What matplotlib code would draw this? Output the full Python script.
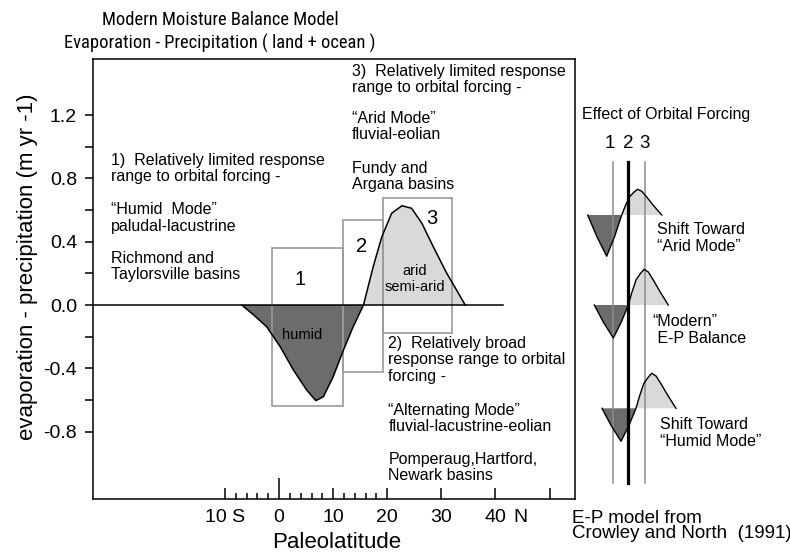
import matplotlib.pyplot as plt
from matplotlib import font_manager
from matplotlib.patches import Rectangle

plt.rcParams["font.family"] = ["Liberation Sans", "DejaVu Sans"]
plt.rcParams["axes.unicode_minus"] = False

W, H = 790, 552

# E-P curve (paleolatitude in degrees, evaporation - precipitation in m/yr)
LATITUDE = [-6.9, -4.7, -2.3, 0.2, 2.65, 5.1, 6.8, 8.2, 10.0, 11.9, 13.7, 15.6,
            17.4, 19.0, 20.8, 22.7, 24.5, 26.4, 28.5, 31.0, 32.8, 34.4]
EP = [0.0, -0.063, -0.137, -0.263, -0.411, -0.537, -0.604, -0.579, -0.453, -0.284,
      -0.137, 0.0, 0.242, 0.432, 0.579, 0.627, 0.611, 0.516, 0.368, 0.200, 0.095, 0.0]

# response-range boxes 1, 2, 3
BOX_NAMES = ["1", "2", "3"]
BOX_LEFT = [-1.35, 11.9, 19.2]
BOX_RIGHT = [11.9, 19.2, 31.9]
BOX_TOP = [0.362, 0.537, 0.674]
BOX_BOTTOM = [-0.638, -0.425, -0.175]

X_MAJOR = [-10, 0, 10, 20, 30, 40, 50]
X_LABELS = ["10 S", "0", "10", "20", "30", "40", ""]
X_MINOR = [-8, -6, -4, -2, 2, 4, 6, 8, 12, 14, 16, 18]
Y_MAJOR = [-0.8, -0.4, 0.0, 0.4, 0.8, 1.2]
Y_LABELS = ["-0.8", "-0.4", "0.0", "0.4", "0.8", "1.2"]
Y_MINOR = [-0.6, -0.2, 0.2, 0.6, 1.0]

# annotation paragraphs of the three response modes
NOTES_1 = ["1)  Relatively limited response\nrange to orbital forcing -",
           "\u201cHumid  Mode\u201d\npaludal-lacustrine",
           "Richmond and\nTaylorsville basins"]
NOTES_2 = ["2)  Relatively broad\nresponse range to orbital\nforcing -",
           "\u201cAlternating Mode\u201d\nfluvial-lacustrine-eolian",
           "Pomperaug,Hartford,\nNewark basins"]
NOTES_3 = ["3)  Relatively limited response\nrange to orbital forcing -",
           "\u201cArid Mode\u201d\nfluvial-eolian",
           "Fundy and\nArgana basins"]

# schematic glyphs of the right panel (pixel units, relative to zero crossing)
TROUGH_DX = [-34, -25, -15, -7, 0]
TROUGH_DY = [0, -17, -33, -17, 0]
HUMP_DX = [0, 3.3, 7.7, 11.7, 15.7, 20, 25, 31.7, 40]
HUMP_DY = [0, 11.7, 25, 31, 35.7, 33, 25, 13.3, 0]
GLYPH_X0 = [621.7, 628.3, 636.0]
GLYPH_Y0 = [215, 305, 408.3]
GLYPH_TROUGH_SCALE = [1.25, 1.0, 1.0]
GLYPH_HUMP_SCALE = [0.72, 1.0, 0.98]
GLYPH_TEXT = ["Shift Toward\n\u201cArid Mode\u201d", "\u201cModern\u201d\n E-P Balance",
              "Shift Toward\n\u201cHumid Mode\u201d"]
MODE_X = [613.3, 628.3, 645.0]

DARK = "#6c6c6c"
LIGHT = "#d9d9d9"
BOX_GRAY = "#9a9a9a"


def fig_xy(px, py):
    return px / W, 1 - py / H


def title_font():
    names = {f.name for f in font_manager.fontManager.ttflist}
    for narrow in ["Liberation Sans Narrow", "Roboto Condensed", "Open Sans Condensed"]:
        if narrow in names:
            return [narrow, "Liberation Sans"], 13.3
    return ["Liberation Sans"], 12.5


fig = plt.figure(figsize=(W / 100, H / 100), dpi=100)
ax = fig.add_axes([93 / W, 53 / H, 482 / W, 440 / H])
ax.set_xlim(-34.4, 54.7)
ax.set_ylim(-1.2255, 1.554)
for spine in ax.spines.values():
    spine.set_linewidth(1.1)

ax.fill_between(LATITUDE, EP, 0, where=[v <= 0 for v in EP], color=DARK,
                interpolate=True, linewidth=0, zorder=1)
ax.fill_between(LATITUDE, EP, 0, where=[v >= 0 for v in EP], color=LIGHT,
                interpolate=True, linewidth=0, zorder=1)
for left, right, top, bottom in zip(BOX_LEFT, BOX_RIGHT, BOX_TOP, BOX_BOTTOM):
    ax.add_patch(Rectangle((left, bottom), right - left, top - bottom, fill=False,
                           edgecolor=BOX_GRAY, linewidth=1.2, zorder=2))
ax.plot(LATITUDE, EP, color="black", linewidth=1.1, zorder=3)
ax.plot([-34.4, 41.4], [0, 0], color="black", linewidth=1.1, zorder=3)

for (x, y), name in zip([(3.9, 0.158), (15.2, 0.368), (28.3, 0.548)], BOX_NAMES):
    ax.text(x, y, name, fontsize=14.5, ha="center", va="center")
ax.text(4.2, -0.19, "humid", fontsize=10.5, ha="center", va="center")
ax.text(25.1, 0.166, "arid\nsemi-arid", fontsize=10.5, ha="center", va="center",
        multialignment="center", linespacing=1.2)

for x, ys, notes in [(-31.1, [0.861, 0.550, 0.244], NOTES_1),
                     (13.5, [1.426, 1.126, 0.810], NOTES_3),
                     (20.2, [-0.347, -0.716, -1.025], NOTES_2)]:
    for y, note in zip(ys, notes):
        ax.text(x, y, note, fontsize=11.5, ha="left", va="center", linespacing=1.1)

ax.set_xticks(X_MAJOR, X_LABELS)
ax.set_xticks(X_MINOR, minor=True)
ax.tick_params(axis="x", which="both", direction="in", top=False, pad=7,
               labelsize=14, width=1.1)
ax.tick_params(axis="x", which="major", length=8)
ax.tick_params(axis="x", which="minor", length=4)
ax.xaxis.get_major_ticks()[1].tick1line.set_markersize(15)
ax.text(44.7, -0.022, "N", transform=ax.get_xaxis_transform(), fontsize=14,
        ha="center", va="top")

ax.set_yticks(Y_MAJOR, Y_LABELS)
ax.set_yticks(Y_MINOR, minor=True)
ax.tick_params(axis="y", which="both", direction="out", length=6, right=False,
               labelsize=14, pad=5.5, width=1.1)

family, size = title_font()
fig.text(*fig_xy(220, 32), "Modern Moisture Balance Model\n"
         "Evaporation - Precipitation ( land + ocean )",
         family=family, fontsize=size, ha="center", va="center", linespacing=1.35)
fig.text(*fig_xy(337, 542), "Paleolatitude", fontsize=16, ha="center", va="center")
fig.text(*fig_xy(28, 267), "evaporation - precipitation (m yr -1)", fontsize=16,
         rotation=90, ha="center", va="center")

# right panel: effect of orbital forcing
side = fig.add_axes([0, 0, 1, 1], facecolor="none")
side.set_xlim(0, W)
side.set_ylim(H, 0)
side.axis("off")

for x0, y0, ts, hs in zip(GLYPH_X0, GLYPH_Y0, GLYPH_TROUGH_SCALE, GLYPH_HUMP_SCALE):
    tx = [x0 + d for d in TROUGH_DX]
    ty = [y0 - d * ts for d in TROUGH_DY]
    hx = [x0 + d for d in HUMP_DX]
    hy = [y0 - d * hs for d in HUMP_DY]
    side.fill(tx, ty, color=DARK, linewidth=0, zorder=1)
    side.fill(hx, hy, color=LIGHT, linewidth=0, zorder=1)
    side.plot(tx + hx, ty + hy, color="black", linewidth=1.0, zorder=3)

for i, x in enumerate(MODE_X):
    if i == 1:
        side.plot([x, x], [161.7, 482.7], color="black", linewidth=2.3, zorder=4)
    else:
        side.plot([x, x], [161.7, 482.7], color="#8c8c8c", linewidth=1.1, zorder=2)
    side.text(x - (3 if i == 0 else 0), 143.3, str(i + 1), fontsize=13.5,
              ha="center", va="center")

side.text(581.7, 115, "Effect of Orbital Forcing", fontsize=11.5, ha="left", va="center")
for (px, py), label in zip([(656.7, 238.3), (652.7, 330), (660, 433.3)], GLYPH_TEXT):
    side.text(px, py, label, fontsize=11.5, ha="left", va="center", linespacing=1.15)
side.text(571.7, 526, "E-P model from\nCrowley and North  (1991)", fontsize=13.5,
          ha="left", va="center", linespacing=0.88)

fig.savefig("out.png", dpi=100)
